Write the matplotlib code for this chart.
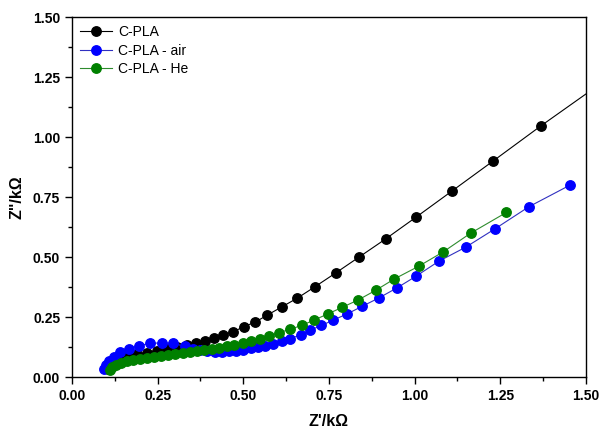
import matplotlib
matplotlib.use("Agg")
import matplotlib.pyplot as plt
from matplotlib.ticker import MultipleLocator

plt.rcParams['font.family'] = ['Liberation Sans', 'DejaVu Sans']

# C-PLA (black)
cpla_x = [0.105, 0.111, 0.123, 0.140, 0.163, 0.190, 0.219, 0.248, 0.277, 0.306,
          0.336, 0.362, 0.388, 0.414, 0.441, 0.469, 0.502, 0.535, 0.570, 0.612,
          0.658, 0.710, 0.769, 0.838, 0.915, 1.005, 1.108, 1.228, 1.369, 1.545]
cpla_y = [0.033, 0.046, 0.058, 0.071, 0.083, 0.094, 0.102, 0.108, 0.115, 0.123,
          0.135, 0.143, 0.150, 0.161, 0.176, 0.1875, 0.210, 0.229, 0.258, 0.292,
          0.329, 0.377, 0.433, 0.500, 0.575, 0.667, 0.774, 0.899, 1.047, 1.225]

# C-PLA - air (blue)
air_x = [0.093, 0.098, 0.108, 0.122, 0.141, 0.166, 0.1955, 0.228, 0.262, 0.294,
         0.330, 0.352, 0.374, 0.395, 0.416, 0.437, 0.458, 0.479, 0.500, 0.521,
         0.543, 0.564, 0.587, 0.613, 0.636, 0.667, 0.695, 0.728, 0.763, 0.803,
         0.846, 0.895, 0.948, 1.004, 1.070, 1.149, 1.234, 1.334, 1.454]
air_y = [0.035, 0.048, 0.067, 0.085, 0.1025, 0.117, 0.131, 0.140, 0.1425, 0.140,
         0.128, 0.118, 0.111, 0.108, 0.105, 0.105, 0.108, 0.110, 0.114, 0.120,
         0.125, 0.130, 0.139, 0.149, 0.160, 0.175, 0.195, 0.215, 0.2375, 0.263,
         0.294, 0.329, 0.371, 0.420, 0.482, 0.541, 0.617, 0.710, 0.800]

# C-PLA - He (green)
he_x = [0.111, 0.117, 0.128, 0.143, 0.160, 0.178, 0.198, 0.219, 0.239, 0.260,
        0.280, 0.302, 0.323, 0.344, 0.366, 0.386, 0.408, 0.429, 0.451, 0.474,
        0.498, 0.523, 0.549, 0.576, 0.605, 0.637, 0.672, 0.706, 0.746, 0.788,
        0.835, 0.886, 0.940, 1.013, 1.084, 1.163, 1.268]
he_y = [0.029, 0.042, 0.050, 0.058, 0.065, 0.071, 0.075, 0.079, 0.083, 0.0875,
        0.092, 0.096, 0.100, 0.104, 0.108, 0.1125, 0.117, 0.122, 0.128, 0.135,
        0.143, 0.150, 0.160, 0.171, 0.185, 0.199, 0.216, 0.237, 0.2625, 0.290,
        0.321, 0.361, 0.408, 0.4625, 0.522, 0.599, 0.686]

labels = ["C-PLA", "C-PLA - air", "C-PLA - He"]
marker_colors = ["#000000", "#0000FF", "#008000"]
line_colors = ["#000000", "#3030C0", "#2E8B2E"]

fig = plt.figure(figsize=(6.03, 4.34), dpi=100)
ax = fig.add_axes([0.1194, 0.1313, 0.8524, 0.8295])

series = [(cpla_x, cpla_y), (air_x, air_y), (he_x, he_y)]
for (xs, ys), lab, mc, lc in zip(series, labels, marker_colors, line_colors):
    ax.plot(xs, ys, '-', color=lc, lw=0.8, marker='o', markersize=6.8,
            markerfacecolor=mc, markeredgecolor=mc, label=lab)

ax.set_xlim(0, 1.5)
ax.set_ylim(0, 1.5)
ax.xaxis.set_major_locator(MultipleLocator(0.25))
ax.yaxis.set_major_locator(MultipleLocator(0.25))
ax.xaxis.set_minor_locator(MultipleLocator(0.125))
ax.yaxis.set_minor_locator(MultipleLocator(0.125))
ax.xaxis.set_major_formatter(plt.FormatStrFormatter('%.2f'))
ax.yaxis.set_major_formatter(plt.FormatStrFormatter('%.2f'))
ax.tick_params(which='major', direction='out', length=5, width=1, labelsize=10,
               top=False, right=False)
ax.tick_params(which='minor', direction='out', length=3, width=1,
               top=False, right=False)
for lab in ax.get_xticklabels() + ax.get_yticklabels():
    lab.set_fontweight('bold')
for sp in ax.spines.values():
    sp.set_linewidth(1.0)

ax.set_xlabel("Z'/k\u03a9", fontsize=11.5, fontweight='bold', labelpad=8)
ax.set_ylabel('Z"/k\u03a9', fontsize=11.5, fontweight='bold', labelpad=6)

leg = ax.legend(loc='upper left', frameon=False, fontsize=10, handlelength=2.3,
                handletextpad=0.4, labelspacing=0.3, borderaxespad=0.2,
                bbox_to_anchor=(0.0, 1.0))

fig.savefig("out.png", dpi=100)
